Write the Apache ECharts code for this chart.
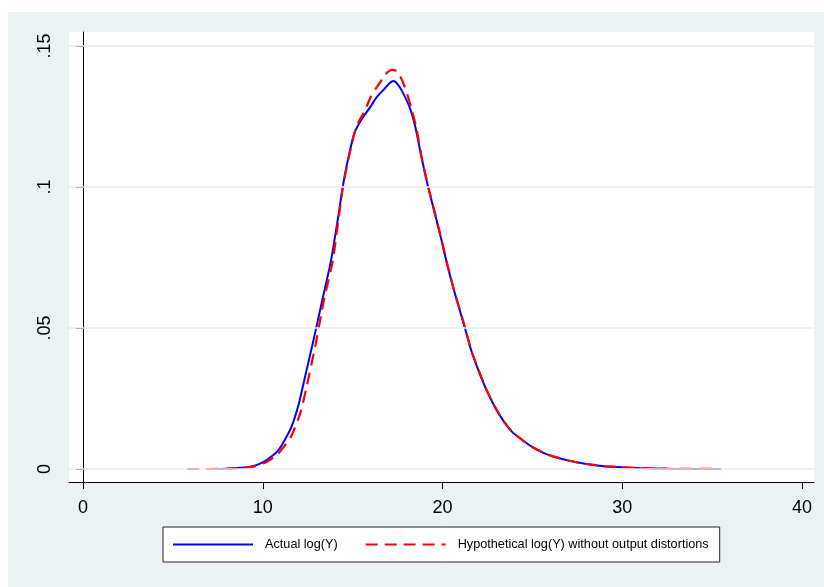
<!DOCTYPE html>
<html>
<head>
<meta charset="utf-8">
<script src="https://cdn.jsdelivr.net/npm/echarts@6/dist/echarts.min.js"></script>
<style>
  html, body { margin: 0; padding: 0; background: #ffffff; }
  #chart { width: 824px; height: 587px; }
</style>
</head>
<body>
<div id="chart"></div>
<script>
// ---- Data ----
const seriesNames = ['Actual log(Y)', 'Hypothetical log(Y) without output distortions'];

const actualX = [7.0, 8.0, 9.0, 9.6, 10.1, 10.5, 10.85, 11.2, 11.6, 12.0, 12.4, 12.8, 13.3, 13.8, 14.2, 14.45, 14.75, 15.1, 15.5, 16.0, 16.3, 16.5, 16.8, 17.05, 17.28, 17.5, 17.75, 18.2, 18.5, 18.85, 19.2, 19.6, 19.95, 20.3, 20.7, 21.25, 21.6, 22.0, 22.45, 22.9, 23.4, 23.9, 24.5, 25.0, 25.9, 27.0, 28.0, 29.0, 30.0, 31.0, 32.5, 35.5];
const actualY = [0, 0.0001, 0.0005, 0.0013, 0.0027, 0.0045, 0.0065, 0.0100, 0.0150, 0.0230, 0.0340, 0.0450, 0.0595, 0.0740, 0.0895, 0.1000, 0.1100, 0.1190, 0.1240, 0.1285, 0.1315, 0.1330, 0.1350, 0.1368, 0.1376, 0.1365, 0.1340, 0.1278, 0.1210, 0.1100, 0.1000, 0.0900, 0.0810, 0.0715, 0.0620, 0.0500, 0.0420, 0.0350, 0.0280, 0.0222, 0.0170, 0.0130, 0.0100, 0.0078, 0.0050, 0.0030, 0.0018, 0.0010, 0.0006, 0.0003, 0.0001, 0];

const hypoX = [5.8, 7.0, 8.0, 9.0, 9.6, 10.2, 10.8, 11.3, 11.6, 12.1, 12.4, 12.95, 13.4, 13.9, 14.2, 14.45, 14.75, 15.2, 15.65, 16.0, 16.25, 16.5, 16.8, 17.0, 17.2, 17.5, 17.9, 18.27, 18.55, 18.85, 19.2, 19.6, 19.95, 20.3, 20.7, 21.25, 21.6, 22.0, 22.45, 22.9, 23.4, 23.9, 24.5, 25.0, 25.9, 27.0, 28.0, 29.0, 30.0, 31.0, 32.5, 35.5];
const hypoY = [0, 0, 0.0001, 0.0004, 0.0010, 0.0025, 0.0050, 0.0090, 0.0118, 0.0200, 0.0280, 0.0445, 0.0598, 0.0740, 0.0880, 0.0995, 0.1095, 0.1214, 0.1267, 0.1318, 0.1345, 0.1368, 0.1397, 0.1410, 0.1415, 0.1409, 0.1356, 0.1279, 0.1208, 0.1102, 0.1002, 0.0902, 0.0812, 0.0717, 0.0622, 0.0502, 0.0421, 0.0351, 0.0281, 0.0222, 0.0170, 0.0130, 0.0100, 0.0078, 0.0050, 0.0030, 0.0018, 0.0010, 0.0006, 0.0003, 0.0001, 0];

const xTicks = [0, 10, 20, 30, 40];
const yTicks = [0, 0.05, 0.1, 0.15];
const yTickLabels = ['0', '.05', '.1', '.15'];

// ---- Build chart ----
const zip = (xs, ys) => xs.map((x, i) => [x, ys[i]]);
const FONT = '"Liberation Sans", Arial, Helvetica, sans-serif';

const chart = echarts.init(document.getElementById('chart'), null, { renderer: 'canvas' });

const option = {
  animation: false,
  backgroundColor: '#ffffff',
  graphic: [{
    type: 'rect',
    left: 8, top: 12,
    shape: { width: 816, height: 575 },
    style: { fill: '#EAF2F3' },
    z: -10, silent: true
  }],
  grid: {
    left: 69, right: 10, top: 32, bottom: 105,
    show: true, backgroundColor: '#ffffff', borderWidth: 0
  },
  legend: {
    data: seriesNames,
    left: 163, top: 527,
    orient: 'horizontal',
    padding: [11, 11, 11, 9],
    itemWidth: 80, itemHeight: 15,
    itemGap: 27,
    backgroundColor: '#ffffff',
    borderColor: '#222222', borderWidth: 1,
    borderRadius: 0,
    itemStyle: { opacity: 0 },
    textStyle: { fontFamily: FONT, fontSize: 12.7, color: '#000000', padding: [0, 0, 0, 7] }
  },
  xAxis: {
    type: 'value',
    min: -0.78, max: 40.67,
    axisLine: { show: true, onZero: false, lineStyle: { color: '#000000', width: 1 } },
    axisTick: { show: true, length: 7, customValues: xTicks, lineStyle: { color: '#000000', width: 1 } },
    axisLabel: { customValues: xTicks, fontFamily: FONT, fontSize: 18, color: '#000000', margin: 17 },
    splitLine: { show: false }
  },
  yAxis: {
    type: 'value',
    min: -0.00461, max: 0.15496,
    axisLine: { show: true, lineStyle: { color: '#000000', width: 1 } },
    axisTick: { show: true, length: 7, customValues: yTicks, lineStyle: { color: '#000000', width: 1 } },
    axisLabel: {
      customValues: yTicks,
      rotate: 90,
      fontFamily: FONT, fontSize: 18, color: '#000000', margin: 15,
      formatter: function (v) {
        const i = yTicks.findIndex(t => Math.abs(t - v) < 1e-9);
        return i >= 0 ? yTickLabels[i] : '';
      }
    },
    splitLine: { show: false }
  },
  series: [
    {
      name: '__grid',
      type: 'line',
      data: [],
      silent: true,
      z: 1,
      markLine: {
        silent: true,
        symbol: ['none', 'none'],
        label: { show: false },
        lineStyle: { color: '#E6EEF0', width: 1.5, type: 'solid' },
        data: yTicks.map(v => ({ yAxis: v })),
        animation: false
      }
    },
    {
      name: seriesNames[0],
      type: 'line',
      data: zip(actualX, actualY),
      showSymbol: false, symbol: 'none',
      smooth: 0.2,
      lineStyle: { color: '#0000FF', width: 2 },
      itemStyle: { color: '#0000FF' },
      z: 3
    },
    {
      name: seriesNames[1],
      type: 'line',
      data: zip(hypoX, hypoY),
      showSymbol: false, symbol: 'none',
      smooth: 0.2,
      lineStyle: { color: '#FF0000', width: 2.2, type: [12, 7] },
      itemStyle: { color: '#FF0000' },
      z: 4
    }
  ]
};

chart.setOption(option);
</script>
</body>
</html>
